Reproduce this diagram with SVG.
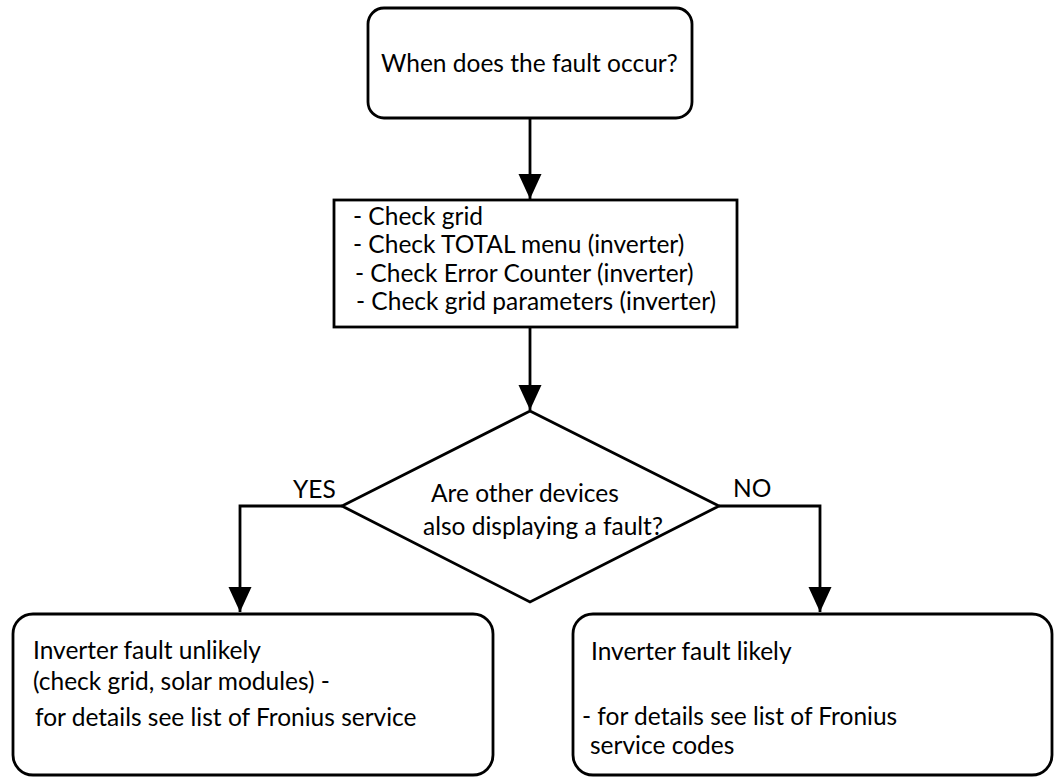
<svg xmlns="http://www.w3.org/2000/svg" width="1055" height="778" viewBox="0 0 1055 778">
<style>
.box{fill:#fff;stroke:#000;stroke-width:2.8}
.t{font-family:Lato,"Open Sans","Liberation Sans",sans-serif;font-size:24.5px;fill:#000}
.c{fill:none;stroke:#000;stroke-width:2.8}
</style>
<defs>
<marker id="ah" markerUnits="userSpaceOnUse" markerWidth="26" markerHeight="24" refX="25" refY="11.5" orient="auto">
<path d="M0,0 L25,11.5 L0,23 Z" fill="#000"/>
</marker>
</defs>
<rect width="1055" height="778" fill="#fff"/>
<g id="connectors">
<line class="c" x1="530" y1="118" x2="530" y2="199" marker-end="url(#ah)"/>
<line class="c" x1="530" y1="327" x2="530" y2="410" marker-end="url(#ah)"/>
<polyline class="c" points="342,506 240,506 240,612" marker-end="url(#ah)"/>
<polyline class="c" points="719,506 820,506 820,612" marker-end="url(#ah)"/>
</g>
<g id="start">
<rect class="box" x="368" y="8" width="324" height="110" rx="16"/>
<text class="t" x="381" y="72">When does the fault occur?</text>
</g>
<g id="checks">
<rect class="box" x="334" y="200" width="403" height="127"/>
<text class="t" x="353" y="225">- Check grid</text>
<text class="t" x="353" y="253">- Check TOTAL menu (inverter)</text>
<text class="t" x="355" y="282">- Check Error Counter (inverter)</text>
<text class="t" x="356" y="310">- Check grid parameters (inverter)</text>
</g>
<g id="decision">
<polygon class="box" points="530,411 719,506 530,602 342,506"/>
<text class="t" x="431" y="502">Are other devices</text>
<text class="t" x="423" y="535">also displaying a fault?</text>
</g>
<g id="labels">
<text class="t" x="293" y="498">YES</text>
<text class="t" x="733" y="497">NO</text>
</g>
<g id="unlikely">
<rect class="box" x="13" y="614" width="480" height="161" rx="20"/>
<text class="t" x="33" y="659">Inverter fault unlikely</text>
<text class="t" x="33" y="690">(check grid, solar modules) -</text>
<text class="t" x="35" y="726">for details see list of Fronius service</text>
</g>
<g id="likely">
<rect class="box" x="573" y="614" width="479" height="161" rx="20"/>
<text class="t" x="591" y="660">Inverter fault likely</text>
<text class="t" x="582" y="725">- for details see list of Fronius</text>
<text class="t" x="590" y="754">service codes</text>
</g>
</svg>
